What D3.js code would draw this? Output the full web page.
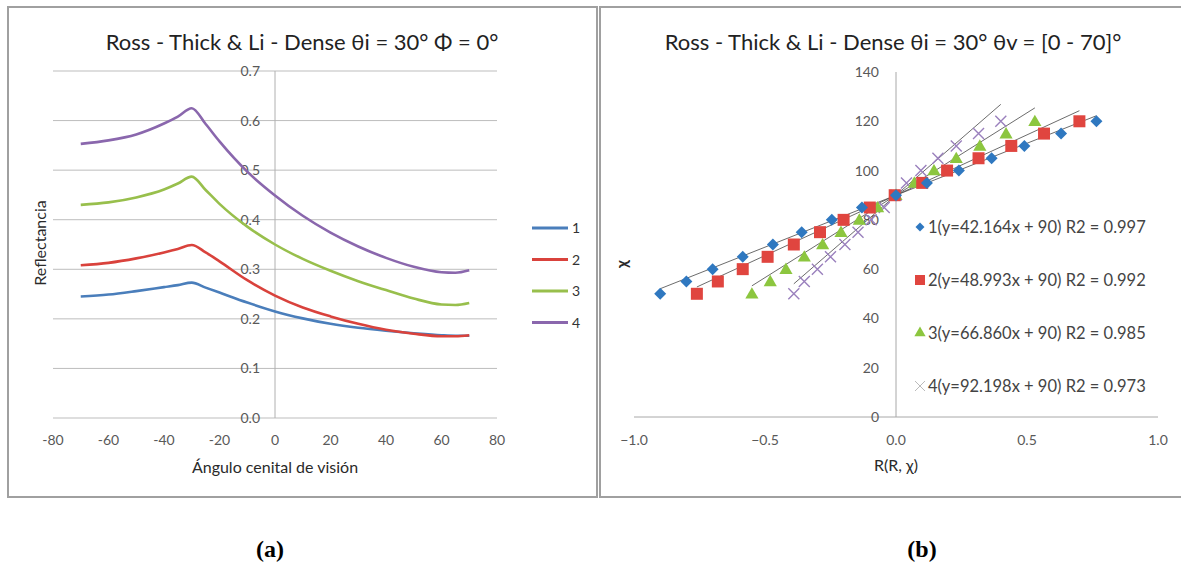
<!DOCTYPE html>
<html>
<head>
<meta charset="utf-8">
<script src="https://cdn.jsdelivr.net/npm/d3@7"></script>
<style>
  body { margin: 0; background: #fff; }
  svg { display: block; font-family: Lato, 'Open Sans', sans-serif; }
  .tick-label { font-size: 14px; fill: #595959; }
  .axis-title { font-size: 16px; fill: #2a2a2a; }
  .chart-title { font-size: 22px; fill: #222; }
</style>
</head>
<body>
<svg width="1181" height="568"></svg>
<script>
// left chart: reflectance vs view zenith angle
const angles = [-70, -60, -50, -40, -35, -30, -25, -20, -10, 0, 10, 20, 30, 40, 50, 60, 65, 70];
const refl1 = [0.245, 0.249, 0.256, 0.264, 0.268, 0.273, 0.263, 0.253, 0.233, 0.215, 0.201, 0.190, 0.182, 0.176, 0.171, 0.167, 0.166, 0.166];
const refl2 = [0.308, 0.313, 0.322, 0.334, 0.341, 0.349, 0.334, 0.316, 0.278, 0.247, 0.223, 0.205, 0.190, 0.178, 0.170, 0.165, 0.165, 0.167];
const refl3 = [0.430, 0.435, 0.445, 0.461, 0.473, 0.487, 0.460, 0.432, 0.386, 0.350, 0.321, 0.297, 0.276, 0.258, 0.241, 0.229, 0.228, 0.232];
const refl4 = [0.553, 0.560, 0.572, 0.594, 0.608, 0.625, 0.593, 0.558, 0.497, 0.449, 0.408, 0.374, 0.346, 0.323, 0.305, 0.294, 0.293, 0.298];
const lineNames = ['1', '2', '3', '4'];
const lineColors = ['#4a7ebb', '#d9423c', '#98bf4c', '#8a67ad'];

// right chart: chi vs R(R, chi), with linear fits through (0, 90)
const chiLevels = [50, 55, 60, 65, 70, 75, 80, 85, 90, 95, 100, 105, 110, 115, 120];
const r1 = [-0.90, -0.80, -0.70, -0.585, -0.47, -0.36, -0.245, -0.13, 0.0, 0.118, 0.24, 0.365, 0.49, 0.63, 0.765];
const r2 = [-0.76, -0.68, -0.585, -0.49, -0.39, -0.29, -0.20, -0.10, -0.005, 0.10, 0.195, 0.315, 0.44, 0.565, 0.70];
const r3 = [-0.55, -0.48, -0.42, -0.35, -0.28, -0.21, -0.14, -0.07, 0.0, 0.07, 0.145, 0.23, 0.32, 0.42, 0.53];
const r4 = [-0.39, -0.35, -0.30, -0.25, -0.195, -0.145, -0.095, -0.045, 0.0, 0.04, 0.095, 0.16, 0.23, 0.315, 0.40];
const fitSlopes = [42.164, 48.993, 66.860, 92.198];
const fitR2 = ['0.997', '0.992', '0.985', '0.973'];
const markerColors = ['#2f78c0', '#e0453f', '#8cc63f', '#9a80bd'];

const xTicksA = [-80, -60, -40, -20, 0, 20, 40, 60, 80];
const yTicksA = [0, 0.1, 0.2, 0.3, 0.4, 0.5, 0.6, 0.7];
const xTicksB = [-1, -0.5, 0, 0.5, 1];
const yTicksB = [0, 20, 40, 60, 80, 100, 120, 140];

const svg = d3.select('svg');

// panel frames
svg.append('rect').attr('x', 8).attr('y', 7).attr('width', 589).attr('height', 490)
  .attr('fill', '#fff').attr('stroke', '#a0a0a0').attr('stroke-width', 2);
svg.append('rect').attr('x', 600).attr('y', 7).attr('width', 590).attr('height', 490)
  .attr('fill', '#fff').attr('stroke', '#a0a0a0').attr('stroke-width', 2);

// ---------- chart (a) ----------
const xA = d3.scaleLinear().domain([-80, 80]).range([53, 497]);
const yA = d3.scaleLinear().domain([0, 0.7]).range([418, 71]);
const gA = svg.append('g');

gA.selectAll('.grid').data(yTicksA)
  .enter().append('line')
  .attr('x1', xA(-80)).attr('x2', xA(80))
  .attr('y1', d => yA(d)).attr('y2', d => yA(d))
  .attr('stroke', '#bdbdbd').attr('stroke-width', 1);

gA.append('line')
  .attr('x1', xA(0)).attr('x2', xA(0))
  .attr('y1', yA(0)).attr('y2', yA(0.7))
  .attr('stroke', '#b0b0b0');

gA.selectAll('.ylab').data(yTicksA)
  .enter().append('text')
  .attr('class', 'tick-label')
  .attr('x', xA(0) - 15).attr('y', d => yA(d) + 5)
  .attr('text-anchor', 'end')
  .text(d3.format('.1f'));

gA.selectAll('.xlab').data(xTicksA)
  .enter().append('text')
  .attr('class', 'tick-label')
  .attr('x', d => xA(d)).attr('y', 445)
  .attr('text-anchor', 'middle')
  .text(d => d);

const seriesA = [refl1, refl2, refl3, refl4];
const lineA = d3.line()
  .x((d, i) => xA(angles[i]))
  .y(d => yA(d))
  .curve(d3.curveMonotoneX);

gA.selectAll('.series').data(seriesA)
  .enter().append('path')
  .attr('d', lineA)
  .attr('fill', 'none')
  .attr('stroke', (d, i) => lineColors[i])
  .attr('stroke-width', 2.6);

const legA = gA.selectAll('.leg').data(lineNames)
  .enter().append('g')
  .attr('transform', (d, i) => `translate(532,${228 + i * 31.5})`);
legA.append('line')
  .attr('x1', 0).attr('x2', 36)
  .attr('stroke', (d, i) => lineColors[i]).attr('stroke-width', 3);
legA.append('text')
  .attr('class', 'tick-label').style('fill', '#333')
  .attr('x', 40).attr('y', 5)
  .text(d => d);

gA.append('text').attr('class', 'chart-title')
  .attr('x', 302).attr('y', 50).attr('text-anchor', 'middle')
  .text('Ross - Thick & Li - Dense θi = 30° Φ = 0°');
gA.append('text').attr('class', 'axis-title')
  .attr('x', 275).attr('y', 473).attr('text-anchor', 'middle')
  .text('Ángulo cenital de visión');
gA.append('text').attr('class', 'axis-title')
  .attr('transform', 'translate(46,243) rotate(-90)')
  .attr('text-anchor', 'middle')
  .text('Reflectancia');

// ---------- chart (b) ----------
const xB = d3.scaleLinear().domain([-1, 1]).range([634, 1158]);
const yB = d3.scaleLinear().domain([0, 140]).range([417, 72]);
const gB = svg.append('g');

gB.append('line')
  .attr('x1', xB(-1)).attr('x2', xB(1))
  .attr('y1', yB(0)).attr('y2', yB(0))
  .attr('stroke', '#a8a8a8');
gB.append('line')
  .attr('x1', xB(0)).attr('x2', xB(0))
  .attr('y1', yB(0)).attr('y2', yB(140))
  .attr('stroke', '#a8a8a8');

gB.selectAll('.ylab').data(yTicksB)
  .enter().append('text')
  .attr('class', 'tick-label')
  .attr('x', xB(0) - 17).attr('y', d => yB(d) + 5)
  .attr('text-anchor', 'end')
  .text(d => d);

gB.selectAll('.xlab').data(xTicksB)
  .enter().append('text')
  .attr('class', 'tick-label')
  .attr('x', d => xB(d)).attr('y', 445)
  .attr('text-anchor', 'middle')
  .text(d3.format('.1f'));

const seriesB = [r1, r2, r3, r4];

// trend lines, drawn over the data range of each series
gB.selectAll('.trend').data(seriesB)
  .enter().append('line')
  .attr('x1', d => xB(d3.min(d)))
  .attr('y1', (d, i) => yB(fitSlopes[i] * d3.min(d) + 90))
  .attr('x2', d => xB(d3.max(d)))
  .attr('y2', (d, i) => yB(fitSlopes[i] * d3.max(d) + 90))
  .attr('stroke', '#404040').attr('stroke-width', 0.9).attr('opacity', 0.85);

const diamond = d3.symbol().type(d3.symbolSquare).size(72);
const square = d3.symbol().type(d3.symbolSquare).size(144);
const triangle = d3.symbol().type(d3.symbolTriangle).size(75);

const markerG = gB.append('g');

markerG.selectAll('.s4').data(r4)
  .enter().append('path')
  .attr('d', (d, i) => {
    const cx = xB(d), cy = yB(chiLevels[i]), h = 5.5;
    return `M${cx - h},${cy - h}L${cx + h},${cy + h}M${cx - h},${cy + h}L${cx + h},${cy - h}`;
  })
  .attr('stroke', markerColors[3]).attr('stroke-width', 1.4).attr('fill', 'none');

markerG.selectAll('.s3').data(r3)
  .enter().append('path')
  .attr('d', triangle)
  .attr('transform', (d, i) => `translate(${xB(d)},${yB(chiLevels[i]) + 1})`)
  .attr('fill', markerColors[2]);

markerG.selectAll('.s2').data(r2)
  .enter().append('path')
  .attr('d', square)
  .attr('transform', (d, i) => `translate(${xB(d)},${yB(chiLevels[i])})`)
  .attr('fill', markerColors[1]);

markerG.selectAll('.s1').data(r1)
  .enter().append('path')
  .attr('d', diamond)
  .attr('transform', (d, i) => `translate(${xB(d)},${yB(chiLevels[i])}) rotate(45)`)
  .attr('fill', markerColors[0]);

// legend
const legB = gB.selectAll('.leg').data(fitSlopes)
  .enter().append('g')
  .attr('transform', (d, i) => `translate(920,${227 + i * 53})`);
legB.append('path')
  .attr('d', (d, i) => {
    if (i === 0) return d3.symbol().type(d3.symbolSquare).size(40)();
    if (i === 1) return d3.symbol().type(d3.symbolSquare).size(100)();
    if (i === 2) return d3.symbol().type(d3.symbolTriangle).size(55)();
    return 'M-5,-5L5,5M-5,5L5,-5';
  })
  .attr('transform', (d, i) => i === 0 ? 'rotate(45)' : null)
  .attr('fill', (d, i) => i === 3 ? 'none' : markerColors[i])
  .attr('stroke', (d, i) => i === 3 ? '#bbb' : 'none');
legB.append('text')
  .attr('class', 'tick-label').style('fill', '#444').style('font-size', '16.5px')
  .attr('x', 8).attr('y', 6)
  .text((d, i) => `${i + 1}(y=${d3.format('.3f')(d)}x + 90) R2 = ${fitR2[i]}`);

gB.append('text').attr('class', 'chart-title')
  .attr('x', 893).attr('y', 50).attr('text-anchor', 'middle')
  .text('Ross - Thick & Li - Dense θi = 30° θv = [0 - 70]°');
gB.append('text').attr('class', 'axis-title')
  .attr('x', 896).attr('y', 471).attr('text-anchor', 'middle')
  .text('R(R, χ)');
gB.append('text').attr('class', 'axis-title')
  .attr('transform', 'translate(627,264) rotate(-90)')
  .attr('text-anchor', 'middle')
  .style('font-weight', 'bold')
  .text('χ');

// captions
svg.selectAll('.caption').data([['(a)', 270], ['(b)', 922]])
  .enter().append('text')
  .attr('x', d => d[1]).attr('y', 557)
  .attr('text-anchor', 'middle')
  .style('font-family', "'Liberation Serif', serif")
  .style('font-weight', 'bold').style('font-size', '24px')
  .text(d => d[0]);
</script>
</body>
</html>
